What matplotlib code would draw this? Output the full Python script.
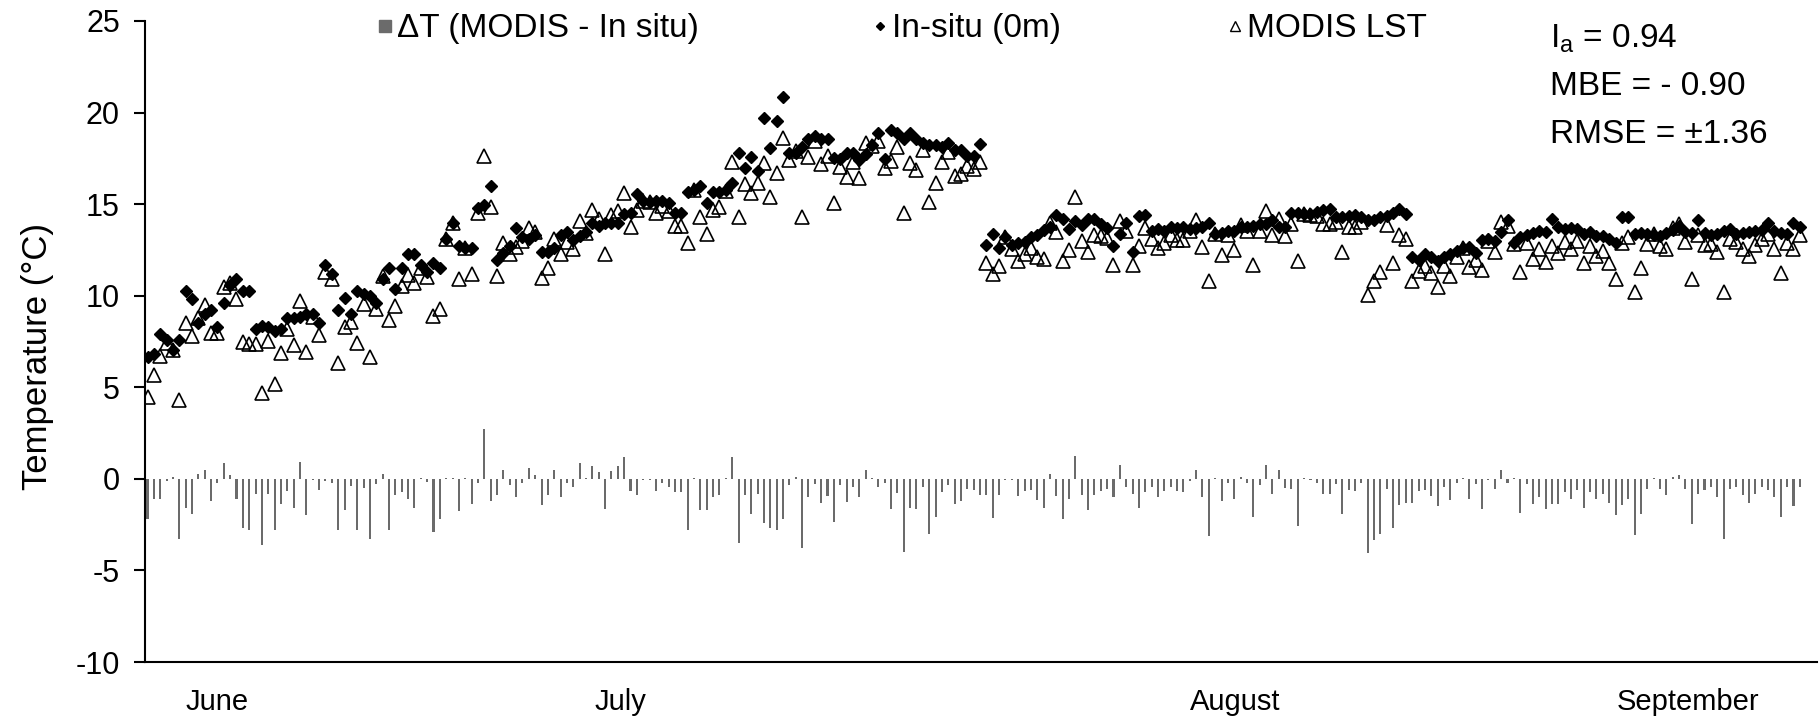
import numpy as np
import matplotlib.pyplot as plt
from matplotlib.lines import Line2D

# in-situ surface temperature (0 m), one value per observation
insitu = [6.67, 6.8, 7.9, 7.6, 7.05, 7.6, 10.27, 9.8, 8.5, 9.0,
          9.2, 8.3, 9.6, 10.6, 10.9, 10.27, 10.24, 8.2, 8.35, 8.3,
          8.1, 8.2, 8.8, 8.8, 8.85, 9.0, 9.0, 8.5, 11.7, 11.2,
          9.2, 9.9, 9.0, 10.24, 10.1, 10.0, 9.6, 10.9, 11.5, 10.35,
          11.5, 12.3, 12.3, 11.7, 11.3, 11.8, 11.5, 13.08, 13.95, 12.7,
          12.6, 12.6, 14.77, 14.95, 15.99, 11.95, 12.35, 12.71, 13.68, 13.2,
          13.08, 13.3, 12.4, 12.4, 12.6, 13.3, 13.5, 13.04, 13.26, 13.5,
          13.99, 13.8, 13.95, 13.95, 13.99, 14.46, 14.5, 15.56, 15.19, 15.14,
          15.19, 15.19, 15.05, 14.54, 14.54, 15.68, 15.77, 16.0, 15.08, 15.68,
          15.68, 15.77, 16.17, 17.78, 16.96, 17.6, 16.83, 19.69, 18.05, 19.56,
          20.87, 17.81, 17.81, 18.1, 18.54, 18.72, 18.54, 18.54, 17.5, 17.45,
          17.78, 17.78, 17.41, 17.74, 18.23, 18.9, 17.45, 19.05, 18.87, 18.54,
          18.9, 18.54, 18.36, 18.23, 18.23, 18.14, 18.32, 17.96, 17.96, 17.63,
          17.63, 18.29, 12.77, 13.37, 12.59, 13.22, 12.75, 12.88, 12.95, 13.22,
          13.31, 13.59, 13.77, 14.41, 14.17, 13.62, 14.1, 13.86, 14.17, 14.17,
          13.92, 13.68, 12.71, 13.37, 13.99, 12.4, 14.35, 14.41, 13.55, 13.62,
          13.55, 13.77, 13.68, 13.73, 13.62, 13.68, 13.77, 13.95, 13.37, 13.4,
          13.55, 13.55, 13.77, 13.77, 13.8, 13.92, 13.92, 14.13, 13.77, 13.77,
          14.5, 14.5, 14.45, 14.46, 14.59, 14.68, 14.72, 14.32, 14.28, 14.35,
          14.41, 14.28, 14.13, 14.13, 14.32, 14.35, 14.5, 14.72, 14.46, 12.13,
          11.95, 12.28, 12.13, 11.91, 12.09, 12.28, 12.46, 12.59, 12.68, 12.31,
          13.04, 13.08, 13.0, 13.5, 14.13, 12.9, 13.22, 13.31, 13.4, 13.55,
          13.5, 14.17, 13.73, 13.62, 13.68, 13.62, 13.37, 13.5, 13.26, 13.26,
          13.08, 12.9, 14.32, 14.32, 13.37, 13.4, 13.37, 13.31, 13.26, 13.4,
          13.59, 13.8, 13.5, 13.4, 14.13, 13.4, 13.31, 13.37, 13.55, 13.62,
          13.37, 13.44, 13.5, 13.55, 13.59, 13.99, 13.55, 13.4, 13.37, 13.99,
          13.77]

# MODIS land surface temperature
modis = [4.48, 5.67, 6.7, 7.4, 7.03, 4.33, 8.5, 7.8, 8.76, 9.5,
         7.94, 7.94, 10.45, 10.67, 9.8, 7.47, 7.36, 7.36, 4.7, 7.54,
         5.2, 6.85, 8.16, 7.29, 9.73, 6.92, 8.85, 7.85, 11.3, 10.9,
         6.34, 8.27, 8.58, 7.43, 9.54, 6.63, 9.25, 11.07, 8.7, 9.43,
         10.53, 11.13, 10.67, 11.49, 11.04, 8.9, 9.25, 13.08, 13.95, 10.9,
         12.6, 11.2, 14.5, 17.63, 14.83, 11.07, 12.86, 12.3, 12.68, 13.0,
         13.68, 13.5, 10.95, 11.5, 13.08, 12.3, 12.95, 12.53, 14.1, 13.44,
         14.68, 14.17, 12.28, 14.4, 14.6, 15.6, 13.77, 14.68, 15.19, 15.14,
         14.54, 14.9, 14.6, 13.8, 13.8, 12.9, 15.77, 14.3, 13.37, 14.7,
         14.83, 15.7, 17.3, 14.28, 16.1, 15.63, 16.14, 17.27, 15.41, 16.69,
         18.6, 17.41, 17.92, 14.32, 17.56, 18.42, 17.2, 17.63, 15.08, 17.05,
         16.47, 17.32, 16.41, 18.32, 18.15, 18.42, 17.0, 17.38, 18.14, 14.5,
         17.27, 16.87, 17.96, 15.14, 16.14, 17.32, 17.87, 16.54, 16.65, 17.09,
         16.9, 17.32, 11.8, 11.18, 11.62, 13.2, 12.53, 11.9, 12.3, 12.62,
         12.14, 12.02, 13.95, 13.46, 11.9, 12.5, 15.4, 12.99, 12.4, 13.3,
         13.27, 13.13, 11.65, 14.1, 13.52, 11.65, 12.72, 13.71, 13.11, 12.62,
         12.9, 13.3, 13.03, 13.03, 13.52, 14.14, 12.68, 10.83, 13.37, 12.24,
         13.3, 12.48, 13.87, 13.52, 11.69, 13.56, 14.62, 13.33, 14.2, 13.27,
         13.9, 11.9, 14.45, 14.4, 14.34, 13.9, 13.9, 14.02, 12.36, 13.73,
         13.76, 14.03, 10.04, 10.78, 11.3, 13.84, 11.8, 13.32, 13.1, 10.82,
         11.33, 11.62, 11.22, 10.47, 11.6, 11.1, 12.1, 12.59, 11.58, 11.93,
         11.4, 13.0, 12.41, 14.0, 13.83, 12.8, 11.3, 12.9, 12.0, 12.57,
         11.82, 12.74, 12.33, 12.93, 12.55, 12.97, 11.78, 12.7, 12.16, 12.46,
         11.77, 10.9, 12.88, 13.22, 10.2, 11.5, 12.82, 13.38, 12.71, 12.53,
         13.69, 13.93, 12.95, 10.92, 13.29, 12.78, 12.84, 12.39, 10.2, 13.09,
         12.93, 12.54, 12.19, 12.75, 13.12, 13.37, 12.57, 11.25, 12.9, 12.53,
         13.3]

# delta T bars (MODIS - in situ)
delta = [-2.2, -1.1, -1.1, -0.1, 0.1, -3.3, -1.6, -1.9, 0.25, 0.5,
         -1.2, -0.25, 0.85, 0.2, -1.1, -2.7, -2.8, -0.8, -3.6, -0.8,
         -2.8, -1.35, -0.65, -1.6, 0.9, -2.0, -0.05, -0.6, -0.1, -0.25,
         -2.8, -1.7, -0.4, -2.8, -0.5, -3.3, -0.3, 0.25, -2.8, -0.9,
         -0.7, -1.1, -1.6, 0.05, -0.15, -2.9, -2.2, 0.05, 0.05, -1.75,
         0.05, -1.35, -0.2, 2.7, -1.2, -0.87, 0.5, -0.36, -1.0, -0.2,
         0.58, 0.2, -1.44, -0.87, 0.5, -1.0, -0.25, -0.47, 0.84, 0.05,
         0.7, 0.36, -1.67, 0.44, 0.69, 1.17, -0.65, -0.87, -0.05, -0.05,
         -0.65, -0.25, -0.47, -0.73, -0.73, -2.77, 0.05, -1.7, -1.7, -0.98,
         -0.87, 0.05, 1.17, -3.5, -0.87, -1.9, -0.8, -2.4, -2.7, -2.8,
         -2.2, -0.33, 0.1, -3.75, -0.98, -0.3, -1.3, -0.95, -2.33, -0.33,
         -1.24, -0.47, -0.98, 0.5, 0.05, -0.47, -0.25, -1.67, -0.76, -4.0,
         -1.57, -1.67, -0.47, -3.0, -2.08, -0.73, -0.33, -1.38, -1.2, -0.58,
         -0.62, -0.87, -0.9, -2.15, -0.9, -0.05, -0.05, -0.95, -0.65, -0.6,
         -1.17, -1.57, 0.25, -0.95, -2.2, -1.1, 1.27, -0.87, -1.7, -0.87,
         -0.65, -0.55, -1.0, 0.73, -0.47, -0.8, -1.57, -0.7, -0.44, -1.0,
         -0.65, -0.47, -0.65, -0.7, -0.1, 0.47, -1.0, -3.1, 0.05, -1.2,
         -0.25, -1.1, 0.1, -0.25, -2.1, -0.36, 0.73, -0.8, 0.47, -0.5,
         -0.55, -2.55, 0.05, -0.05, -0.25, -0.8, -0.8, -0.3, -1.9, -0.62,
         -0.65, -0.25, -4.04, -3.35, -2.99, -0.53, -2.66, -1.44, -1.31, -1.31,
         -0.65, -0.62, -0.95, -1.46, -0.47, -1.13, -0.25, 0.05, -1.1, -0.3,
         -1.62, -0.05, -0.58, 0.5, -0.25, 0.05, -1.86, -0.3, -1.35, -0.98,
         -1.67, -1.38, -1.35, -0.73, -1.1, -0.62, -1.57, -0.73, -1.1, -0.8,
         -1.31, -1.99, -1.44, -1.1, -3.08, -1.9, -0.55, 0.07, -0.55, -0.87,
         0.1, 0.2, -0.55, -2.44, -0.84, -0.62, -0.47, -0.98, -3.3, -0.53,
         -0.44, -0.9, -1.31, -0.8, -0.47, -0.62, -0.98, -2.1, -0.47, -1.46,
         -0.47]

months = ['June', 'July', 'August', 'September']
month_pos = [10.9, 74.4, 171.2, 242.4]

stats = [r'I$_{\mathrm{a}}$ = 0.94', 'MBE = - 0.90', 'RMSE = \u00b11.36']

plt.rcParams['font.family'] = ['Liberation Sans', 'DejaVu Sans']
plt.rcParams['axes.unicode_minus'] = False
plt.rcParams['mathtext.fontset'] = 'custom'
plt.rcParams['mathtext.rm'] = 'Liberation Sans'
plt.rcParams['mathtext.it'] = 'Liberation Sans'

x = np.arange(len(insitu))
bar_color = '#6b6b6b'

fig = plt.figure(figsize=(18.19, 7.21), dpi=100)
ax = fig.add_axes([0.0797, 0.0818, 0.9192, 0.8891])

ax.bar(x, delta, width=0.32, color=bar_color, zorder=2)
ax.plot(x, insitu, 'D', ms=6, color='black', zorder=3)
ax.plot(x, modis, '^', ms=9.5, mfc='none', mec='black', mew=1.2, zorder=4)

ax.set_xlim(-0.4, 262.7)
ax.set_ylim(-10, 25)
ax.set_yticks(range(-10, 26, 5))
ax.set_xticks(month_pos)
ax.set_xticklabels(months)
for s in ['top', 'right']:
    ax.spines[s].set_visible(False)
for s in ['left', 'bottom']:
    ax.spines[s].set_linewidth(1.5)
ax.tick_params(axis='y', direction='out', length=8, width=1.5, pad=10, labelsize=22)
ax.tick_params(axis='x', length=0, pad=19, labelsize=21)

fig.text(37 / 1819, 1 - 357 / 721, 'Temperature (\u00b0C)', rotation=90,
         ha='center', va='center', fontsize=25)

# three legend entries, each placed where the reference has it
entries = [
    (Line2D([], [], marker='s', ls='none', color=bar_color, ms=9), '\u0394T (MODIS - In situ)', 0.2070),
    (Line2D([], [], marker='D', ls='none', color='black', ms=4.5), 'In-situ (0m)', 0.4794),
    (Line2D([], [], marker='^', ls='none', mfc='none', mec='black', ms=6.5, mew=1), 'MODIS LST', 0.6745),
]
for h, lab, lx in entries:
    fig.legend([h], [lab], loc='center left', bbox_to_anchor=(lx, 0.96),
               frameon=False, fontsize=24, handlelength=0.5, handletextpad=0.1,
               borderaxespad=0, borderpad=0)

for k, s in enumerate(stats):
    fig.text(0.852, 0.946 - k * 0.066, s, ha='left', va='center', fontsize=24)

fig.savefig('out.png', dpi=100)
